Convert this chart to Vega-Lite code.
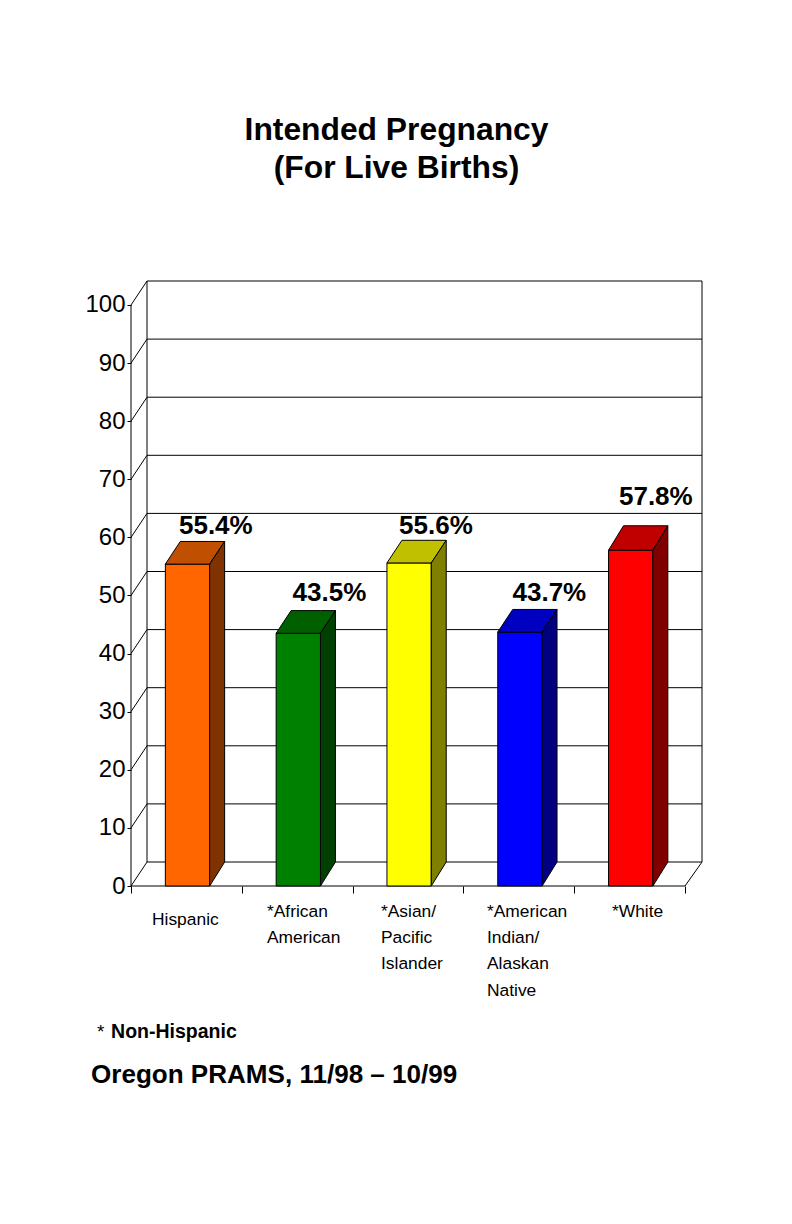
{
"$schema":"https://vega.github.io/schema/vega-lite/v6.json",
"width":571,"height":605,
"autosize":{"type":"none"},
"padding":{"left":131,"top":281,"right":90,"bottom":338},
"background":"white",
"config":{"view":{"stroke":null},"font":"Liberation Sans"},
"title":{"text":["Intended Pregnancy","(For Live Births)"],"font":"Liberation Sans","fontSize":31.8,"fontWeight":"bold","color":"black","anchor":"middle","frame":"group","dx":-20,"offset":94,"lineHeight":38},
"encoding":{
"x":{"field":"x","type":"quantitative","scale":{"domain":[0,5.1534],"nice":false,"zero":false},"axis":{"values":[0,1,2,3,4,5],"labels":false,"domain":false,"grid":false,"ticks":true,"tickColor":"black","tickSize":7,"title":null}},
"y":{"field":"y","type":"quantitative","scale":{"domain":[0,104.13],"nice":false,"zero":false},"axis":{"values":[0,10,20,30,40,50,60,70,80,90,100],"domain":false,"grid":false,"ticks":true,"tickColor":"black","tickSize":4,"labelFont":"Liberation Sans Narrow, Arial Narrow, Liberation Sans","labelFontSize":24,"labelColor":"black","labelPadding":2,"title":null}}
},
"layer":[
{"data":{"values":[
{"line":"g0","x":0,"y":0},{"line":"g0","x":0.1444,"y":4.13},{"line":"g0","x":5.1534,"y":4.13},
{"line":"g10","x":0,"y":10},{"line":"g10","x":0.1444,"y":14.13},{"line":"g10","x":5.1534,"y":14.13},
{"line":"g20","x":0,"y":20},{"line":"g20","x":0.1444,"y":24.13},{"line":"g20","x":5.1534,"y":24.13},
{"line":"g30","x":0,"y":30},{"line":"g30","x":0.1444,"y":34.13},{"line":"g30","x":5.1534,"y":34.13},
{"line":"g40","x":0,"y":40},{"line":"g40","x":0.1444,"y":44.13},{"line":"g40","x":5.1534,"y":44.13},
{"line":"g50","x":0,"y":50},{"line":"g50","x":0.1444,"y":54.13},{"line":"g50","x":5.1534,"y":54.13},
{"line":"g60","x":0,"y":60},{"line":"g60","x":0.1444,"y":64.13},{"line":"g60","x":5.1534,"y":64.13},
{"line":"g70","x":0,"y":70},{"line":"g70","x":0.1444,"y":74.13},{"line":"g70","x":5.1534,"y":74.13},
{"line":"g80","x":0,"y":80},{"line":"g80","x":0.1444,"y":84.13},{"line":"g80","x":5.1534,"y":84.13},
{"line":"g90","x":0,"y":90},{"line":"g90","x":0.1444,"y":94.13},{"line":"g90","x":5.1534,"y":94.13},
{"line":"g100","x":0,"y":100},{"line":"g100","x":0.1444,"y":104.13},{"line":"g100","x":5.1534,"y":104.13},
{"line":"axis","x":0,"y":100},{"line":"axis","x":0,"y":0},{"line":"axis","x":5,"y":0},{"line":"axis","x":5.1534,"y":4.13},{"line":"axis","x":5.1534,"y":104.13},
{"line":"wall","x":0.1444,"y":4.13},{"line":"wall","x":0.1444,"y":104.13}
]},
"mark":{"type":"line","color":"black","strokeWidth":1,"clip":false},
"encoding":{"detail":{"field":"line"},"order":{"value":0}}},
{"data":{"values":[
{"face":"Hispanic front","x":0.31,"y":0,"y2":55.4},{"face":"Hispanic front","x":0.71,"y":0,"y2":55.4},
{"face":"Hispanic top","x":0.31,"y":55.4,"y2":55.4},{"face":"Hispanic top","x":0.445,"y":55.4,"y2":59.3},{"face":"Hispanic top","x":0.71,"y":55.4,"y2":59.3},{"face":"Hispanic top","x":0.845,"y":59.3,"y2":59.3},
{"face":"Hispanic side","x":0.71,"y":0,"y2":55.4},{"face":"Hispanic side","x":0.845,"y":4.13,"y2":59.3},
{"face":"African American front","x":1.31,"y":0,"y2":43.5},{"face":"African American front","x":1.71,"y":0,"y2":43.5},
{"face":"African American top","x":1.31,"y":43.5,"y2":43.5},{"face":"African American top","x":1.445,"y":43.5,"y2":47.4},{"face":"African American top","x":1.71,"y":43.5,"y2":47.4},{"face":"African American top","x":1.845,"y":47.4,"y2":47.4},
{"face":"African American side","x":1.71,"y":0,"y2":43.5},{"face":"African American side","x":1.845,"y":4.13,"y2":47.4},
{"face":"Asian front","x":2.31,"y":0,"y2":55.6},{"face":"Asian front","x":2.71,"y":0,"y2":55.6},
{"face":"Asian top","x":2.31,"y":55.6,"y2":55.6},{"face":"Asian top","x":2.445,"y":55.6,"y2":59.5},{"face":"Asian top","x":2.71,"y":55.6,"y2":59.5},{"face":"Asian top","x":2.845,"y":59.5,"y2":59.5},
{"face":"Asian side","x":2.71,"y":0,"y2":55.6},{"face":"Asian side","x":2.845,"y":4.13,"y2":59.5},
{"face":"American Indian front","x":3.31,"y":0,"y2":43.7},{"face":"American Indian front","x":3.71,"y":0,"y2":43.7},
{"face":"American Indian top","x":3.31,"y":43.7,"y2":43.7},{"face":"American Indian top","x":3.445,"y":43.7,"y2":47.6},{"face":"American Indian top","x":3.71,"y":43.7,"y2":47.6},{"face":"American Indian top","x":3.845,"y":47.6,"y2":47.6},
{"face":"American Indian side","x":3.71,"y":0,"y2":43.7},{"face":"American Indian side","x":3.845,"y":4.13,"y2":47.6},
{"face":"White front","x":4.31,"y":0,"y2":57.8},{"face":"White front","x":4.71,"y":0,"y2":57.8},
{"face":"White top","x":4.31,"y":57.8,"y2":57.8},{"face":"White top","x":4.445,"y":57.8,"y2":62},{"face":"White top","x":4.71,"y":57.8,"y2":62},{"face":"White top","x":4.845,"y":62,"y2":62},
{"face":"White side","x":4.71,"y":0,"y2":57.8},{"face":"White side","x":4.845,"y":4.13,"y2":62}
]},
"mark":{"type":"area","stroke":"black","strokeWidth":1,"opacity":1,"clip":false},
"encoding":{"y2":{"field":"y2"},"color":{"field":"face","type":"nominal","legend":null,"scale":{
"domain":["Hispanic front","Hispanic top","Hispanic side","African American front","African American top","African American side","Asian front","Asian top","Asian side","American Indian front","American Indian top","American Indian side","White front","White top","White side"],
"range":["#FF6600","#C05000","#803300","#008000","#006000","#004000","#FFFF00","#C0C000","#808000","#0000FF","#0000C0","#000080","#FF0000","#C00000","#800000"]}}}},
{"data":{"values":[
{"label":"55.4%","x":0.433,"y":60.6},
{"label":"43.5%","x":1.458,"y":49.12},
{"label":"55.6%","x":2.419,"y":60.6},
{"label":"43.7%","x":3.443,"y":49.12},
{"label":"57.8%","x":4.404,"y":65.6}
]},
"mark":{"type":"text","align":"left","baseline":"alphabetic","font":"Liberation Sans","fontWeight":"bold","fontSize":26,"color":"black"},
"encoding":{"text":{"field":"label"}}},
{"data":{"values":[
{"label":"Hispanic","x":0.1895,"y":-6.72},
{"label":"*African\nAmerican","x":1.2274,"y":-5.35},
{"label":"*Asian/\nPacific\nIslander","x":2.2563,"y":-5.35},
{"label":"*American\nIndian/\nAlaskan\nNative","x":3.213,"y":-5.35},
{"label":"*White","x":4.341,"y":-5.35}
]},
"mark":{"type":"text","align":"left","baseline":"alphabetic","font":"Liberation Sans","fontSize":17.4,"color":"black","lineBreak":"\n","lineHeight":26.2},
"encoding":{"text":{"field":"label"}}},
{"data":{"values":[{"label":"*","x":-0.307,"y":-26.16}]},
"mark":{"type":"text","align":"left","baseline":"alphabetic","font":"Liberation Sans","fontSize":19,"color":"black"},
"encoding":{"text":{"field":"label"}}},
{"data":{"values":[{"label":"Non-Hispanic","x":-0.18,"y":-26.16}]},
"mark":{"type":"text","align":"left","baseline":"alphabetic","font":"Liberation Sans","fontWeight":"bold","fontSize":19.5,"color":"black"},
"encoding":{"text":{"field":"label"}}},
{"data":{"values":[{"label":"Oregon PRAMS, 11/98 – 10/99","x":-0.361,"y":-33.9}]},
"mark":{"type":"text","align":"left","baseline":"alphabetic","font":"Liberation Sans","fontWeight":"bold","fontSize":26.05,"color":"black"},
"encoding":{"text":{"field":"label"}}}
]
}
